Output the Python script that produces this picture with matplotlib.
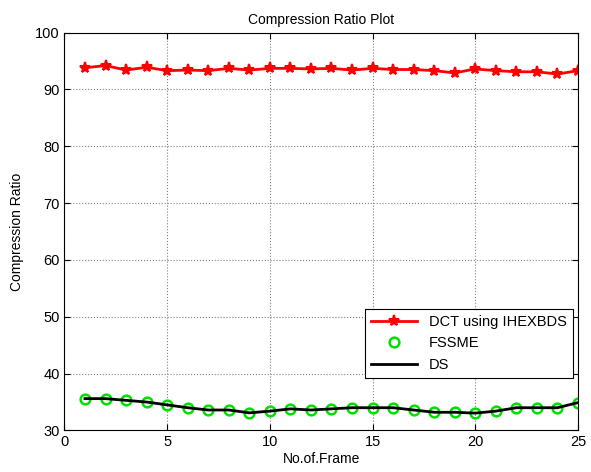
import numpy as np
import matplotlib.pyplot as plt

plt.rcParams['font.family'] = ['Liberation Sans', 'DejaVu Sans']

frames = np.arange(1, 26)
dct_ihexbds = [93.8, 94.2, 93.4, 93.9, 93.3, 93.4, 93.3, 93.7, 93.4, 93.7,
               93.7, 93.6, 93.7, 93.4, 93.7, 93.5, 93.5, 93.3, 92.9, 93.6,
               93.3, 93.1, 93.1, 92.7, 93.3]
fssme = [35.6, 35.6, 35.3, 35.0, 34.5, 34.0, 33.6, 33.6, 33.1, 33.4,
         33.8, 33.6, 33.8, 34.0, 34.0, 34.0, 33.6, 33.2, 33.2, 33.05,
         33.4, 34.0, 34.0, 34.0, 34.9]
ds = fssme

fig = plt.figure(figsize=(5.91, 4.72), dpi=100)
ax = fig.add_axes([0.109, 0.088, 0.869, 0.843])

ax.plot(frames, dct_ihexbds, '-', color='red', lw=2, marker='*', ms=8,
        mew=1.5, label='DCT using IHEXBDS')
ax.plot(frames, fssme, 'o', color='#00e000', mfc='none', ms=7, mew=1.8,
        label='FSSME')
ax.plot(frames, ds, '-', color='black', lw=2, label='DS')

ax.set_xlim(0, 25)
ax.set_ylim(30, 100)
ax.set_xticks(range(0, 26, 5))
ax.set_yticks(range(30, 101, 10))
ax.grid(True, color='#808080', linestyle=':', lw=0.8)
ax.tick_params(direction='in', top=True, right=True, labelsize=10.5, length=4)
for s in ax.spines.values():
    s.set_linewidth(0.8)

ax.set_title('Compression Ratio Plot', fontsize=10)
ax.set_xlabel('No.of.Frame', fontsize=10, labelpad=2)
ax.set_ylabel('Compression Ratio', fontsize=10, labelpad=8)

leg = ax.legend(loc='lower right', bbox_to_anchor=(0.99, 0.133), fancybox=False,
                edgecolor='black', framealpha=1, fontsize=10.5,
                borderaxespad=0.0, handlelength=3.2)
leg.get_frame().set_linewidth(0.8)

fig.savefig('out.png', dpi=100)
